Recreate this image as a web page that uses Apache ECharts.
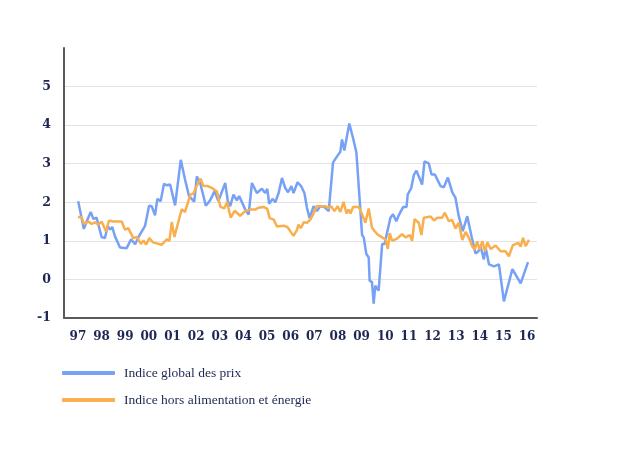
<!DOCTYPE html>
<html>
<head>
<meta charset="utf-8">
<script src="https://cdn.jsdelivr.net/npm/echarts@6/dist/echarts.min.js"></script>
<style>html,body{margin:0;padding:0;background:#fff}#c{width:620px;height:450px}</style>
</head>
<body>
<div id="c"></div>
<script>
// Decimal years and values (percent)
const globalDates = [1997.01,1997.25,1997.37,1997.54,1997.65,1997.79,1998.00,1998.14,1998.26,1998.36,1998.45,1998.57,1998.78,1999.06,1999.25,1999.42,1999.56,1999.84,2000.01,2000.12,2000.26,2000.36,2000.50,2000.64,2000.76,2000.90,2001.11,2001.35,2001.53,2001.70,2001.92,2002.03,2002.17,2002.41,2002.59,2002.78,2002.94,2003.23,2003.34,2003.44,2003.58,2003.72,2003.82,2004.08,2004.22,2004.36,2004.57,2004.78,2004.92,2005.01,2005.09,2005.23,2005.35,2005.49,2005.63,2005.77,2005.89,2006.03,2006.12,2006.29,2006.44,2006.58,2006.69,2006.80,2006.97,2007.11,2007.25,2007.42,2007.61,2007.79,2007.96,2008.10,2008.17,2008.27,2008.48,2008.64,2008.78,2009.02,2009.09,2009.20,2009.30,2009.34,2009.44,2009.51,2009.58,2009.72,2009.87,2009.97,2010.22,2010.33,2010.47,2010.57,2010.76,2010.90,2010.95,2011.10,2011.21,2011.32,2011.56,2011.66,2011.84,2011.96,2012.10,2012.34,2012.48,2012.65,2012.84,2012.97,2013.11,2013.28,2013.47,2013.65,2013.82,2013.94,2014.03,2014.17,2014.25,2014.39,2014.60,2014.81,2015.02,2015.38,2015.73,2016.04];
const globalValues = [2.03,1.31,1.5,1.75,1.57,1.6,1.1,1.07,1.39,1.29,1.36,1.11,0.83,0.81,1.04,0.91,1.1,1.39,1.91,1.9,1.66,2.09,2.03,2.48,2.44,2.46,1.92,3.1,2.59,2.16,2.02,2.67,2.5,1.91,2.05,2.29,2.03,2.5,2.03,1.9,2.2,2.05,2.16,1.81,1.68,2.5,2.24,2.35,2.24,2.35,1.96,2.09,2.0,2.24,2.63,2.37,2.26,2.42,2.24,2.52,2.42,2.24,1.85,1.59,1.9,1.77,1.9,1.88,1.77,3.03,3.19,3.31,3.63,3.34,4.04,3.66,3.29,1.15,1.09,0.66,0.57,-0.03,-0.07,-0.63,-0.16,-0.29,0.92,0.92,1.6,1.69,1.51,1.66,1.88,1.88,2.2,2.37,2.71,2.82,2.46,3.06,3.01,2.72,2.72,2.42,2.39,2.64,2.25,2.12,1.64,1.25,1.64,1.12,0.67,0.73,0.86,0.52,0.82,0.39,0.34,0.39,-0.57,0.27,-0.1,0.45];

const coreDates = [1997.00,1997.16,1997.25,1997.44,1997.58,1997.72,1997.86,1998.00,1998.19,1998.31,1998.50,1998.85,1998.99,1999.13,1999.34,1999.49,1999.66,1999.77,1999.88,2000.02,2000.17,2000.55,2000.76,2000.87,2000.97,2001.08,2001.25,2001.39,2001.53,2001.75,2001.89,2002.04,2002.19,2002.30,2002.49,2002.70,2002.88,2003.02,2003.19,2003.31,2003.46,2003.63,2003.86,2004.08,2004.29,2004.50,2004.63,2004.85,2005.01,2005.11,2005.28,2005.42,2005.70,2005.86,2006.12,2006.27,2006.33,2006.43,2006.55,2006.70,2006.83,2006.94,2007.11,2007.47,2007.61,2007.71,2007.85,2007.99,2008.10,2008.24,2008.36,2008.45,2008.53,2008.64,2008.88,2009.02,2009.16,2009.30,2009.44,2009.66,2009.87,2010.01,2010.11,2010.19,2010.29,2010.50,2010.71,2010.86,2011.04,2011.14,2011.24,2011.42,2011.53,2011.63,2011.92,2012.06,2012.20,2012.41,2012.52,2012.69,2012.83,2012.97,2013.11,2013.26,2013.40,2013.54,2013.68,2013.79,2013.89,2013.99,2014.11,2014.22,2014.32,2014.46,2014.67,2014.88,2015.09,2015.23,2015.40,2015.63,2015.73,2015.83,2015.94,2016.08];
const coreValues = [1.62,1.61,1.44,1.5,1.44,1.48,1.42,1.5,1.24,1.52,1.5,1.5,1.29,1.33,1.07,1.1,0.92,1.01,0.9,1.07,0.96,0.9,1.04,1.0,1.49,1.1,1.5,1.82,1.75,2.19,2.23,2.45,2.61,2.43,2.42,2.36,2.28,1.89,1.84,2.01,1.6,1.78,1.65,1.77,1.81,1.81,1.86,1.88,1.83,1.59,1.55,1.37,1.39,1.36,1.13,1.29,1.42,1.33,1.48,1.47,1.55,1.68,1.9,1.9,1.85,1.9,1.77,1.9,1.75,2.01,1.71,1.81,1.71,1.88,1.88,1.69,1.47,1.84,1.34,1.17,1.09,1.04,0.79,1.2,1.0,1.06,1.17,1.09,1.15,1.0,1.56,1.47,1.15,1.6,1.63,1.53,1.6,1.6,1.73,1.51,1.54,1.32,1.47,1.02,1.23,1.08,0.86,0.77,0.99,0.77,0.99,0.73,0.96,0.79,0.88,0.73,0.73,0.6,0.89,0.95,0.85,1.08,0.86,1.03];

const yearTicks = [1997,1998,1999,2000,2001,2002,2003,2004,2005,2006,2007,2008,2009,2010,2011,2012,2013,2014,2015,2016];
const seriesNames = ['Indice global des prix', 'Indice hors alimentation et énergie'];

const zip = (a, b) => a.map((d, i) => [d, b[i]]);
const ink = '#1e2753';
const font = '"DejaVu Serif", Georgia, serif';
const legendFont = '"Liberation Serif", "Times New Roman", serif';

const chart = echarts.init(document.getElementById('c'), null, {renderer: 'canvas'});
chart.setOption({
  animation: false,
  backgroundColor: '#fff',
  grid: {left: 64, top: 48, width: 473, height: 270, containLabel: false},
  xAxis: {
    type: 'value',
    min: 1996.41,
    max: 2016.42,
    splitLine: {show: false},
    axisTick: {show: false},
    axisLine: {show: true, onZero: false, lineStyle: {color: '#5a5a5a', width: 2}},
    axisLabel: {
      customValues: yearTicks,
      formatter: v => String(Math.round(v)).slice(2),
      color: ink, fontFamily: font, fontWeight: 'bold', fontSize: 12, margin: 13
    }
  },
  yAxis: {
    type: 'value',
    min: -1, max: 6, interval: 1,
    axisTick: {show: false},
    axisLine: {show: true, onZero: false, lineStyle: {color: '#5a5a5a', width: 2}},
    splitLine: {show: true, showMinLine: false, showMaxLine: false, lineStyle: {color: '#e3e3e3', width: 1}},
    axisLabel: {
      showMaxLabel: false,
      formatter: v => (v >= 6 ? '' : String(v)),
      color: ink, fontFamily: font, fontWeight: 'bold', fontSize: 12.5, margin: 13
    }
  },
  legend: {
    orient: 'vertical',
    left: 57, top: 360,
    itemWidth: 53, itemHeight: 4,
    itemGap: 11,
    icon: 'roundRect',
    textStyle: {color: ink, fontFamily: legendFont, fontSize: 13.5, padding: [0, 0, 0, 4], lineHeight: 16}
  },
  series: [
    {
      name: seriesNames[0], type: 'line', data: zip(globalDates, globalValues),
      showSymbol: false, symbol: 'none',
      lineStyle: {color: '#76a1f6', width: 2.5}, itemStyle: {color: '#76a1f6'}
    },
    {
      name: seriesNames[1], type: 'line', data: zip(coreDates, coreValues),
      showSymbol: false, symbol: 'none',
      lineStyle: {color: '#f9af4e', width: 2.5}, itemStyle: {color: '#f9af4e'}
    }
  ]
});
</script>
</body>
</html>
